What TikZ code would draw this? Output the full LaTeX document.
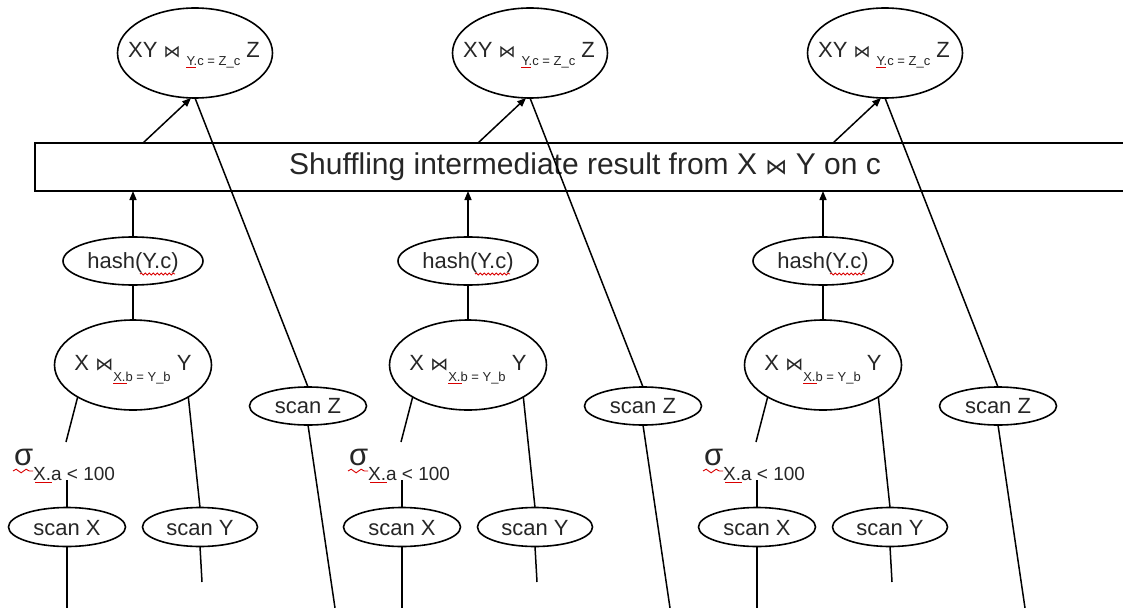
\documentclass[tikz,border=0pt]{standalone}
\usepackage{fontspec}
\setmainfont{Liberation Sans}
\newfontfamily\djv{DejaVu Sans}
\usetikzlibrary{shapes.geometric,arrows.meta,decorations.pathmorphing,calc}
\newcommand\fsz[1]{\fontsize{#1}{#1}\selectfont}
\newcommand\bowt[1]{{\djv\fsz{#1}⋈}}
\begin{document}
\begin{tikzpicture}[x=1pt,y=-1pt,
  every node/.style={inner sep=0pt, outer sep=0pt, text=black!85},
  ell/.style={draw, ellipse, line width=1.6pt},
  ln/.style={line width=1.5pt},
  arr/.style={line width=1.5pt,-{Triangle[length=9pt,width=7pt]}},
  sqw/.style={red!85!black, line width=0.9pt, decorate, decoration={snake,segment length=4pt,amplitude=0.9pt}},
  sqs/.style={red!85!black, line width=1pt},
  sqt/.style={red!85!black, line width=0.9pt, decorate, decoration={snake,segment length=10pt,amplitude=1.8pt}},
  ]
\useasboundingbox (0,0) rectangle (1123,607);
\node[draw, line width=1.8pt, minimum width=1100pt, minimum height=48pt] (shuf) at (585,167)
  {\fsz{30}Shuffling intermediate result from X \bowt{22} Y on c};
\foreach \i/\d in {1/0,2/335,3/690}{
  % top join node
  \node[ell, minimum width=155pt, minimum height=90pt] (t\i) at (195+\d,53) {};
  \node[anchor=base] (tt\i) at (194+\d,58) {\fsz{22}XY \bowt{17} \raisebox{-8pt}{\fsz{13}Y.c = Z\_c} Z};
  % hash node
  \node[ell, minimum width=140pt, minimum height=48pt] (h\i) at (133+\d,261) {};
  \node[anchor=base] (ht\i) at (133+\d,268) {\fsz{22}hash(Y.c)};
  % join X Y
  \node[ell, minimum width=157pt, minimum height=90pt] (j\i) at (133+\d,365) {};
  \node[anchor=base] (jt\i) at (133+\d,370) {\fsz{22}X \bowt{18}\raisebox{-11pt}{\fsz{13}X.b = Y\_b} Y};
  % scan Z
  \node[ell, minimum width=117pt, minimum height=38pt] (sz\i) at (308+\d,406) {};
  \node[anchor=base] (szt\i) at (308+\d,413) {\fsz{22}scan Z};
  % selection
  \node[anchor=base west] (sg\i) at (14+\d,465) {\fsz{31}σ\raisebox{-15pt}{\fsz{19}X.a < 100}};
  % scan X, scan Y
  \node[ell, minimum width=117pt, minimum height=39pt] (sx\i) at (67+\d,527) {};
  \node[anchor=base] (sxt\i) at (67+\d,535) {\fsz{22}scan X};
  \node[ell, minimum width=115pt, minimum height=39pt] (sy\i) at (200+\d,527) {};
  \node[anchor=base] (syt\i) at (200+\d,535) {\fsz{22}scan Y};
  % free ends
  \coordinate (a\i) at (143+\d,143);
  \coordinate (st\i) at (66+\d,442);
  \coordinate (sb\i) at (67+\d,480);
  \coordinate (xb\i) at (67+\d,608);
  \coordinate (yb\i) at (202+\d,582);
  \coordinate (zb\i) at (335+\d,608);
  % connectors
  \draw[arr] (a\i) -- (t\i.265);
  \draw[ln] (t\i.south) -- (sz\i.north);
  \draw[ln] (sz\i.south) -- (zb\i);
  \draw[arr] (h\i.north) -- (h\i.north |- shuf.south);
  \draw[ln] (h\i.south) -- (j\i.north);
  \draw[ln] (j\i.210) -- (st\i);
  \draw[ln] (j\i.330) -- (sy\i.north);
  \draw[ln] (sb\i) -- (sx\i.north);
  \draw[ln] (sx\i.south) -- (xb\i);
  \draw[ln] (sy\i.south) -- (yb\i);
  % spell-check marks
  \draw[sqs] (186+\d,68) -- (196+\d,68);
  \draw[sqw] (140+\d,274) -- (175+\d,274);
  \draw[sqs] (113+\d,383) -- (127+\d,383);
  \draw[sqt] (13+\d,471) -- (33+\d,471);
  \draw[sqs] (35+\d,482) -- (52+\d,482);
}
\end{tikzpicture}
\end{document}
